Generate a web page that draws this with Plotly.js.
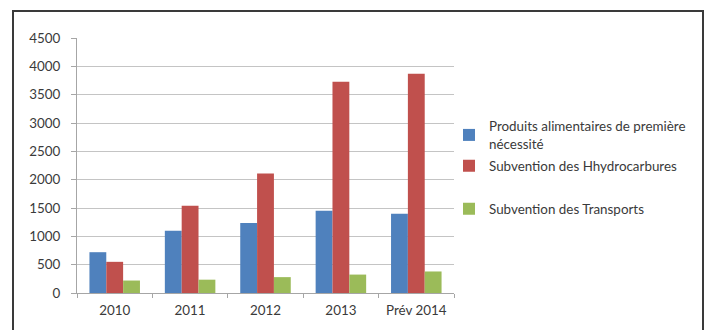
<!DOCTYPE html>
<html>
<head>
<meta charset="utf-8">
<script src="https://cdn.plot.ly/plotly-3.0.1.min.js"></script>
<style>
html,body{margin:0;padding:0;background:#fff;}
#wrap{position:relative;width:705px;height:330px;overflow:hidden;}
#chart{position:absolute;left:0;top:0;width:705px;height:330px;}
#frame{position:absolute;left:12px;top:10px;width:688px;height:340px;border:2px solid #3a3a3a;border-bottom:none;pointer-events:none;}
</style>
</head>
<body>
<div id="wrap"><div id="chart"></div><div id="frame"></div></div>
<script>
const categories = ["2010", "2011", "2012", "2013", "Prév 2014"];
const seriesNames = ["Produits alimentaires de première<br>nécessité", "Subvention des Hhydrocarbures", "Subvention des Transports"];
const produits = [720, 1100, 1235, 1450, 1400];
const hydrocarbures = [550, 1540, 2110, 3730, 3870];
const transports = [220, 235, 280, 325, 380];
const yTicks = [0, 500, 1000, 1500, 2000, 2500, 3000, 3500, 4000, 4500];

const colors = ["#4F81BD", "#C0504D", "#9BBB59"];
const values = [produits, hydrocarbures, transports];
const legends = ["legend", "legend2", "legend3"];

const traces = values.map((v, i) => ({
  type: "bar",
  x: categories,
  y: v,
  name: seriesNames[i],
  marker: {color: colors[i]},
  legend: legends[i],
  hoverinfo: "x+y"
}));

const font = {family: "Lato, 'Open Sans', sans-serif", size: 13.4, color: "#3a3a3a"};
const legBase = {xref: "container", yref: "container", xanchor: "left", yanchor: "middle",
  bgcolor: "rgba(0,0,0,0)", borderwidth: 0, font: font, itemwidth: 30};

const layout = {
  width: 705, height: 330,
  margin: {l: 77, r: 251, t: 38, b: 37, pad: 0, autoexpand: false},
  paper_bgcolor: "#fff", plot_bgcolor: "#fff",
  font: font,
  barmode: "group", bargap: 0.33, bargroupgap: 0,
  showlegend: true,
  xaxis: {
    type: "category",
    showline: true, linecolor: "#a6a6a6", linewidth: 1,
    ticks: "outside", tickson: "boundaries", ticklen: 4, tickcolor: "#a6a6a6",
    showgrid: false, ticklabelstandoff: 5,
    tickfont: font
  },
  yaxis: {
    range: [0, 4500], tickvals: yTicks, ticktext: yTicks.map(String),
    showline: true, linecolor: "#a6a6a6", linewidth: 1,
    ticks: "outside", ticklen: 5, tickcolor: "#a6a6a6",
    showgrid: true, gridcolor: "#c4c4c4", gridwidth: 1,
    zeroline: false, ticklabelstandoff: 8,
    tickfont: font
  },
  legend: Object.assign({}, legBase, {x: 449/705, y: 1 - 135/330}),
  legend2: Object.assign({}, legBase, {x: 449/705, y: 1 - 166/330}),
  legend3: Object.assign({}, legBase, {x: 449/705, y: 1 - 209/330})
};

Plotly.newPlot("chart", traces, layout, {displayModeBar: false, staticPlot: true});
</script>
</body>
</html>
